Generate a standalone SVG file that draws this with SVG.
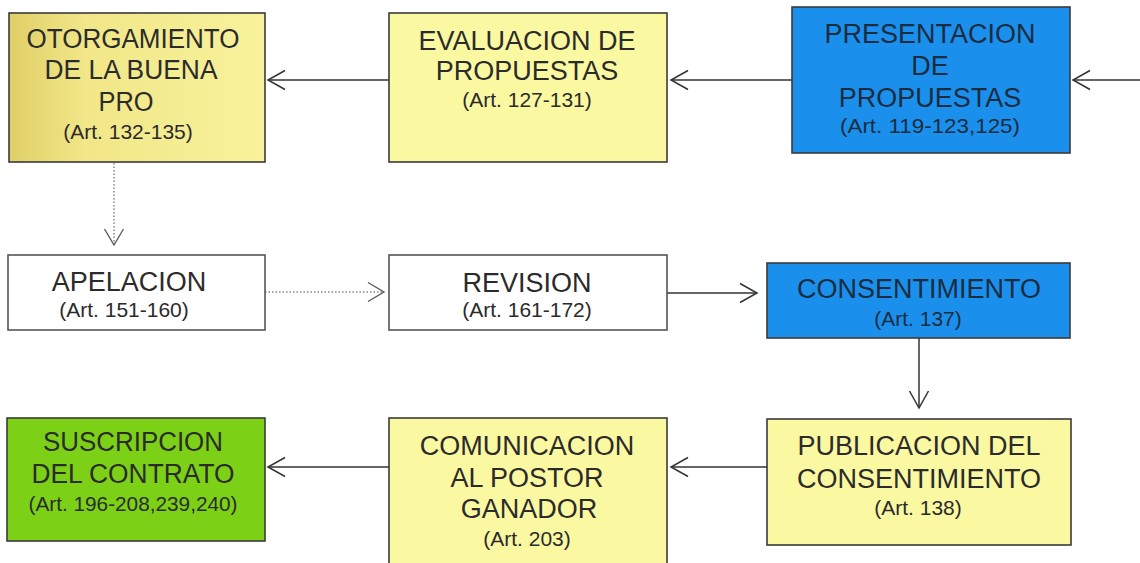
<svg xmlns="http://www.w3.org/2000/svg" width="1140" height="563" viewBox="0 0 1140 563">
<defs>
<style>
.box{stroke:#3a3a3a;stroke-width:1.6}
.yel{fill:#fbf8a2}
.blue{fill:#1b8fec}
.green{fill:#7cd117}
.white{fill:#ffffff;stroke:#555}
.t{font-family:"Liberation Sans",Arial,sans-serif;font-size:27px;fill:#2b2b2b;text-anchor:middle}
.a{font-family:"Liberation Sans",Arial,sans-serif;font-size:21px;fill:#2b2b2b;text-anchor:middle}
.tb{fill:#1a2d40}
.c{fill:none;stroke:#333;stroke-width:1.5}
.d{fill:none;stroke:#888;stroke-width:1.5;stroke-dasharray:1.5 2}
</style>
<linearGradient id="g1" x1="0" y1="0" x2="1" y2="0">
<stop offset="0" stop-color="#e0cf68"/>
<stop offset="0.3" stop-color="#f1e788"/>
<stop offset="1" stop-color="#f8f29c"/>
</linearGradient>
<marker id="ah" viewBox="-18 -11 20 22" refX="0" refY="0" markerWidth="20" markerHeight="22" markerUnits="userSpaceOnUse" orient="auto">
<path d="M-17,-9.5 L0,0 L-17,9.5" fill="none" stroke="#333" stroke-width="1.5"/>
</marker>
<marker id="ahg" viewBox="-18 -11 20 22" refX="0" refY="0" markerWidth="20" markerHeight="22" markerUnits="userSpaceOnUse" orient="auto">
<path d="M-16,-9.5 L0,0 L-16,9.5" fill="none" stroke="#555" stroke-width="1.3"/>
</marker>
</defs>
<rect width="1140" height="563" fill="#ffffff"/>
<g id="connectors">
<line class="c" x1="389" y1="80" x2="268" y2="80" marker-end="url(#ah)"/>
<line class="c" x1="792" y1="80" x2="671" y2="80" marker-end="url(#ah)"/>
<line class="c" x1="1140" y1="80" x2="1073" y2="80" marker-end="url(#ah)"/>
<line class="d" x1="114" y1="163" x2="114" y2="245" marker-end="url(#ahg)"/>
<line class="d" x1="265" y1="292" x2="384" y2="292" marker-end="url(#ahg)"/>
<line class="c" x1="667" y1="293" x2="757" y2="293" marker-end="url(#ah)"/>
<line class="c" x1="919" y1="338" x2="919" y2="408" marker-end="url(#ah)"/>
<line class="c" x1="767" y1="467" x2="671" y2="467" marker-end="url(#ah)"/>
<line class="c" x1="389" y1="467" x2="268" y2="467" marker-end="url(#ah)"/>
</g>
<g id="otorgamiento">
<rect class="box" x="9" y="13" width="256" height="149" fill="url(#g1)"/>
<text class="t" x="133" y="48" textLength="213" lengthAdjust="spacingAndGlyphs">OTORGAMIENTO</text>
<text class="t" x="131" y="79" textLength="173" lengthAdjust="spacingAndGlyphs">DE LA BUENA</text>
<text class="t" x="126" y="111" textLength="55" lengthAdjust="spacingAndGlyphs">PRO</text>
<text class="a" x="128" y="139">(Art. 132-135)</text>
</g>
<g id="evaluacion">
<rect class="box yel" x="389" y="13" width="278" height="149"/>
<text class="t" x="527" y="50">EVALUACION DE</text>
<text class="t" x="527" y="80">PROPUESTAS</text>
<text class="a" x="527" y="107">(Art. 127-131)</text>
</g>
<g id="presentacion">
<rect class="box blue" x="792" y="7" width="278" height="146"/>
<text class="t tb" x="930" y="43">PRESENTACION</text>
<text class="t tb" x="930" y="75">DE</text>
<text class="t tb" x="930" y="107">PROPUESTAS</text>
<text class="a tb" x="930" y="133" textLength="180" lengthAdjust="spacingAndGlyphs">(Art. 119-123,125)</text>
</g>
<g id="apelacion">
<rect class="box white" x="8" y="255" width="257" height="75"/>
<text class="t" x="129" y="291">APELACION</text>
<text class="a" x="124" y="317">(Art. 151-160)</text>
</g>
<g id="revision">
<rect class="box white" x="389" y="255" width="278" height="75"/>
<text class="t" x="527" y="292">REVISION</text>
<text class="a" x="527" y="317">(Art. 161-172)</text>
</g>
<g id="consentimiento">
<rect class="box blue" x="767" y="263" width="303" height="75"/>
<text class="t tb" x="919" y="298">CONSENTIMIENTO</text>
<text class="a tb" x="918" y="326">(Art. 137)</text>
</g>
<g id="publicacion">
<rect class="box yel" x="767" y="419" width="304" height="126"/>
<text class="t" x="919" y="455">PUBLICACION DEL</text>
<text class="t" x="919" y="488">CONSENTIMIENTO</text>
<text class="a" x="918" y="515">(Art. 138)</text>
</g>
<g id="comunicacion">
<rect class="box yel" x="389" y="418" width="278" height="150"/>
<text class="t" x="527" y="455">COMUNICACION</text>
<text class="t" x="527" y="487">AL POSTOR</text>
<text class="t" x="529" y="518">GANADOR</text>
<text class="a" x="527" y="546">(Art. 203)</text>
</g>
<g id="suscripcion">
<rect class="box green" x="7" y="418" width="258" height="123"/>
<text class="t" x="133" y="451" textLength="180" lengthAdjust="spacingAndGlyphs">SUSCRIPCION</text>
<text class="t" x="133" y="483" textLength="203" lengthAdjust="spacingAndGlyphs">DEL CONTRATO</text>
<text class="a" x="133" y="511" textLength="209" lengthAdjust="spacingAndGlyphs">(Art. 196-208,239,240)</text>
</g>
</svg>
